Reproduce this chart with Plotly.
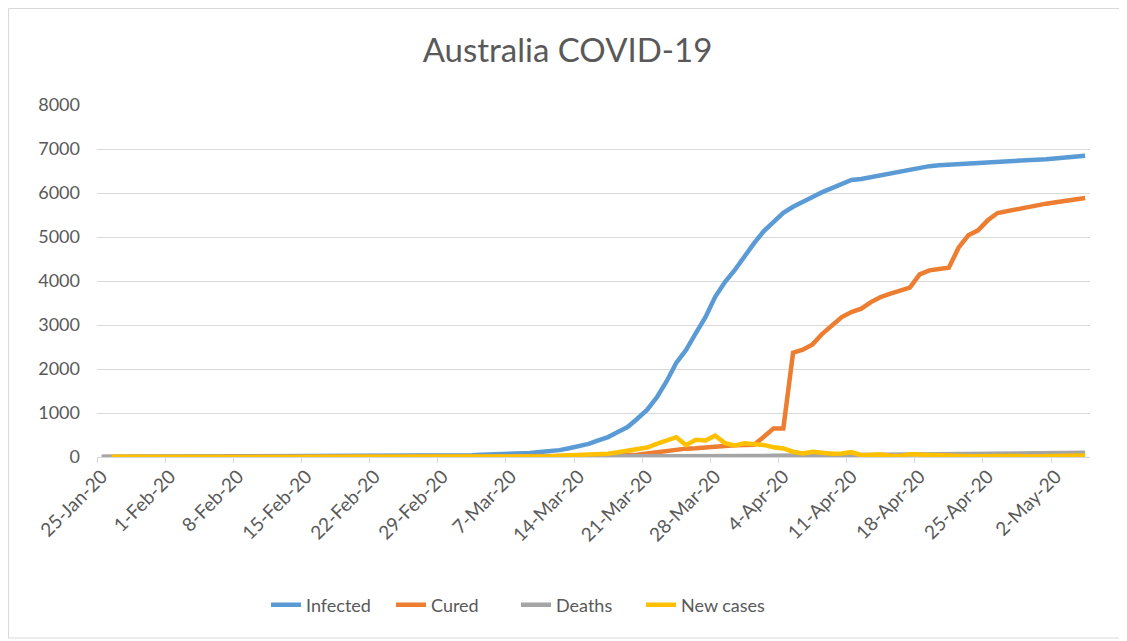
import pandas as pd
import plotly.graph_objects as go

# ---- data ----
start_date = "2020-01-25"
n_days = 102  # 25-Jan-20 .. 5-May-20

infected = [
    1, 4, 5, 5, 6, 9, 9, 12, 12, 12, 13, 13, 14, 15, 15, 15, 15, 15, 15, 15,
    15, 15, 15, 15, 15, 15, 15, 15, 21, 22, 22, 22, 22, 23, 23, 25, 27, 30, 39, 52,
    55, 60, 74, 80, 92, 112, 127, 156, 199, 250, 297, 377, 452, 568, 681, 870,
    1071, 1353, 1717, 2136, 2431, 2810, 3179, 3640, 3978, 4245, 4557, 4862, 5136, 5358,
    5550, 5687, 5810, 5910, 6020, 6110, 6215, 6295, 6320, 6360, 6420, 6450, 6480, 6530,
    6580, 6610, 6630, 6645, 6650, 6660, 6675, 6694, 6714, 6721, 6740, 6752, 6758, 6766,
    6785, 6801, 6825, 6847,
]

cured = [
    0, 0, 0, 0, 0, 0, 0, 0, 0, 0, 0, 0, 2, 2, 2, 2, 2, 2, 4, 4,
    4, 8, 8, 8, 10, 10, 10, 10, 11, 11, 11, 11, 11, 11, 11, 11, 11, 11, 21, 21,
    21, 21, 21, 21, 21, 21, 21, 21, 23, 23, 23, 26, 26, 30, 40, 50,
    80, 110, 140, 170, 190, 200, 220, 250, 260, 265, 270, 280, 460, 650,
    650, 2370, 2440, 2560, 2800, 2990, 3180, 3295, 3370, 3520, 3636, 3712, 3773, 3848,
    4152, 4242, 4273, 4303, 4758, 5038, 5152, 5379, 5545, 5591, 5636, 5674, 5720, 5758,
    5788, 5818, 5856, 5886,
]

deaths = [
    0, 0, 0, 0, 0, 0, 0, 0, 0, 0, 0, 0, 0, 0, 0, 0, 0, 0, 0, 0,
    0, 0, 0, 0, 0, 0, 0, 0, 0, 0, 0, 0, 0, 0, 0, 0, 1, 1, 1, 2,
    2, 2, 3, 3, 3, 3, 3, 3, 3, 3, 3, 5, 5, 6, 6, 7,
    7, 7, 7, 8, 8, 13, 13, 14, 16, 18, 19, 21, 23, 28,
    30, 35, 40, 45, 50, 51, 57, 60, 61, 62, 63, 63, 63, 64,
    67, 67, 70, 71, 74, 75, 79, 80, 83, 83, 89, 91, 93, 93,
    95, 96, 97, 97,
]

new_cases = [
    None, 3, 1, 0, 1, 3, 0, 3, 0, 0, 1, 0, 1, 1, 0, 0, 0, 0, 0, 0,
    0, 0, 0, 0, 0, 0, 0, 0, 6, 1, 0, 0, 0, 1, 0, 2, 2, 3, 9, 13,
    3, 5, 14, 6, 12, 20, 15, 29, 38, 45, 47, 60, 76, 106, 150, 190,
    215, 300, 385, 450, 270, 390, 375, 485, 315, 265, 310, 305, 275, 220,
    195, 120, 80, 120, 90, 75, 80, 110, 40, 50, 55, 30, 20, 65,
    55, 35, 20, 25, 15, 15, 15, 20, 20, 10, 20, 10, 10, 15,
    15, 20, 25, 35,
]

tick_dates = ["2020-01-25", "2020-02-01", "2020-02-08", "2020-02-15", "2020-02-22",
              "2020-02-29", "2020-03-07", "2020-03-14", "2020-03-21", "2020-03-28",
              "2020-04-04", "2020-04-11", "2020-04-18", "2020-04-25", "2020-05-02"]
tick_labels = ["25-Jan-20", "1-Feb-20", "8-Feb-20", "15-Feb-20", "22-Feb-20",
               "29-Feb-20", "7-Mar-20", "14-Mar-20", "21-Mar-20", "28-Mar-20",
               "4-Apr-20", "11-Apr-20", "18-Apr-20", "25-Apr-20", "2-May-20"]

y_ticks = [0, 1000, 2000, 3000, 4000, 5000, 6000, 7000, 8000]

series_names = ["Infected", "Cured", "Deaths", "New cases"]
series_colors = ["#5B9BD5", "#ED7D31", "#A5A5A5", "#FFC000"]

# ---- figure ----
dates = pd.date_range(start_date, periods=n_days, freq="D")
FONT = "Lato"
TXT = "#595959"
GRID = "#D9D9D9"

fig = go.Figure()
for name, vals, col in zip(series_names, [infected, cured, deaths, new_cases], series_colors):
    fig.add_trace(go.Scatter(
        x=dates, y=vals, name=name, mode="lines",
        line=dict(color=col, width=4.5),
        connectgaps=False,
    ))

# the page body adds an 8px offset, so layout is expressed in page pixels minus 8
OFF = 8
W, H = 1127 - OFF, 641 - OFF
L, T = 97 - OFF, 105 - OFF
R = W - (1090 - OFF)
B = H - (457 - OFF)
pw, ph = W - L - R, H - T - B


def px_x(sx):
    return (sx - OFF - L) / pw


def px_y(sy):
    return ((457 - OFF) - (sy - OFF)) / ph


fig.update_layout(
    width=W, height=H,
    margin=dict(l=L, r=R, t=T, b=B, autoexpand=False),
    paper_bgcolor="white", plot_bgcolor="white",
    font=dict(family=FONT, color=TXT, size=18),
    title=dict(text="Australia COVID-19", x=0.5, xanchor="center",
               y=1 - (50 - OFF) / H, yanchor="middle",
               font=dict(family=FONT, size=33, color=TXT)),
    showlegend=True,
    legend=dict(orientation="h", x=px_x(266), xanchor="left",
                y=px_y(605), yanchor="middle",
                font=dict(family=FONT, size=18, color=TXT),
                bgcolor="rgba(0,0,0,0)", entrywidth=80, entrywidthmode="pixels",
                tracegroupgap=0),
    xaxis=dict(
        type="date", automargin=False,
        range=["2020-01-24 12:00", "2020-05-05 12:00"],
        tickmode="array", tickvals=tick_dates, ticktext=tick_labels,
        tickangle=-45, ticks="", showgrid=False,
        showline=True, linecolor=GRID, linewidth=1,
        tickfont=dict(family=FONT, size=19, color=TXT),
        minor=dict(ticks="outside", tick0="2020-01-24 12:00",
                   dtick=7 * 86400000, ticklen=5, tickcolor=GRID, showgrid=False),
        zeroline=False, fixedrange=True,
    ),
    yaxis=dict(
        automargin=False,
        range=[0, 8000], tickmode="array", tickvals=y_ticks,
        ticks="", showgrid=True, gridcolor=GRID, gridwidth=1,
        showline=False, zeroline=False,
        tickfont=dict(family=FONT, size=18, color=TXT),
        ticklabelstandoff=16, fixedrange=True,
    ),
    shapes=[dict(type="rect", xref="paper", yref="paper",
                 x0=px_x(8.5), x1=px_x(1123),
                 y0=px_y(638), y1=px_y(8.5),
                 line=dict(color=GRID, width=1), fillcolor="rgba(0,0,0,0)",
                 layer="below")],
)

fig.write_html("out.html")
